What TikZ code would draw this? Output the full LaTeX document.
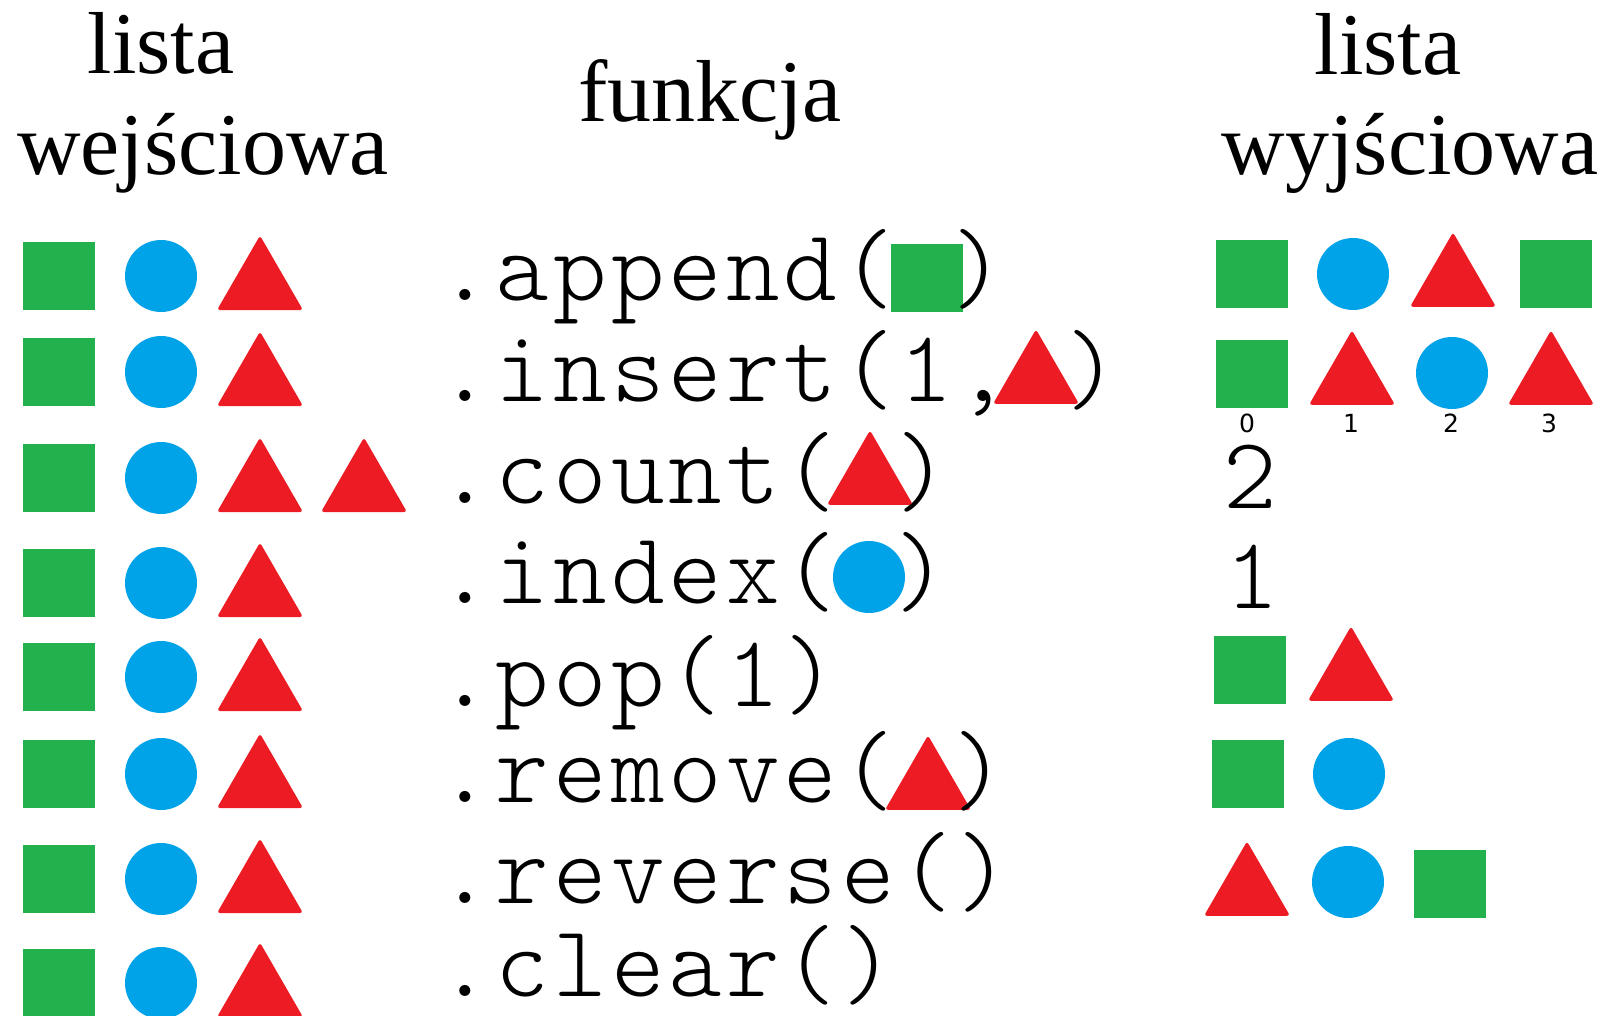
\documentclass[tikz,border=0pt]{standalone}
\usepackage{fontspec}
\usetikzlibrary{shapes.geometric}
\newfontfamily\headfont{Liberation Serif}
\newfontfamily\codefont{lmmonolt10-regular.otf}[LetterSpace=4.0]
\newfontfamily\idxfont{DejaVu Sans}
\definecolor{sqgreen}{HTML}{22B14C}
\definecolor{ballblue}{HTML}{00A2E8}
\definecolor{trired}{HTML}{ED1C24}

\begin{document}
\begin{tikzpicture}[x=1pt,y=-1pt,
  sq/.style={rectangle, fill=sqgreen, inner sep=0pt, outer sep=0pt,
             minimum width=72pt, minimum height=68pt},
  ball/.style={circle, fill=ballblue, inner sep=0pt, outer sep=0pt,
               minimum size=72pt},
  tri/.style={regular polygon, regular polygon sides=3, fill=trired,
              inner sep=0pt, outer sep=0pt, minimum size=99.3pt,
              rounded corners=3pt},
  headtxt/.style={font=\headfont\fontsize{88}{88}\selectfont,
                  inner sep=0pt, anchor=base},
  codetxt/.style={font=\codefont\fontsize{102}{102}\selectfont,
                  inner sep=0pt, anchor=base west},
  closetxt/.style={codetxt, anchor=base},
  idxtxt/.style={font=\idxfont\fontsize{25}{25}\selectfont,
                 inner sep=0pt, anchor=base}]

\useasboundingbox (0,0) rectangle (1609,1016);
\clip (0,0) rectangle (1609,1016);
\fill[white] (0,0) rectangle (1609,1016);

% column headings
\node[headtxt] (inhead1) at (161,74) {lista};
\node[headtxt] (inhead2) at (203,175) {wejściowa};
\node[headtxt] (fnhead) at (710,122) {funkcja};
\node[headtxt] (outhead1) at (1388,75) {lista};
\node[headtxt] (outhead2) at (1410,175) {wyjściowa};

% input lists: square, circle, triangle in every row
\foreach \T [count=\i] in {242,338,444,549,643,740,845,949}{
  \pgfmathsetmacro{\yc}{\T+34}
  \pgfmathsetmacro{\yt}{\T+68-24.8}
  \node[sq] (insq\i) at (59,\yc) {};
  \node[ball] (inball\i) at (161,\yc) {};
  \node[tri] (intri\i) at (260,\yt) {};
}
\node[tri] (intri3b) at (364,487.2) {};

% list methods
\node[codetxt] (fappend) at (438,301) {.append(};
\node[sq] (fappendarg) at (927,278) {};
\node[closetxt] (fappendend) at (978,301) {)};

\node[codetxt] (finsert) at (438,401) {.insert(1,};
\node[tri] (finsertarg) at (1036,379) {};
\node[closetxt] (finsertend) at (1092,401) {)};

\node[codetxt] (fcount) at (438,503) {.count(};
\node[tri] (fcountarg) at (870,480) {};
\node[closetxt] (fcountend) at (922,503) {)};

\node[codetxt] (findex) at (438,603) {.index(};
\node[ball] (findexarg) at (869,577) {};
\node[closetxt] (findexend) at (921,603) {)};

\node[codetxt] (fpop) at (438,706) {.pop(1)};

\node[codetxt] (fremove) at (438,802) {.remove(};
\node[tri] (fremovearg) at (928,785) {};
\node[closetxt] (fremoveend) at (979,802) {)};

\node[codetxt] (freverse) at (438,903) {.reverse()};
\node[codetxt] (fclear) at (438,996) {.clear()};

% results
\node[sq] (r1a) at (1252,274) {};
\node[ball] (r1b) at (1353,274) {};
\node[tri] (r1c) at (1453,282) {};
\node[sq] (r1d) at (1556,274) {};

\node[sq] (r2a) at (1252,374) {};
\node[tri] (r2b) at (1352,380) {};
\node[ball] (r2c) at (1452,373) {};
\node[tri] (r2d) at (1551,380) {};
\node[idxtxt] (i0) at (1247,432) {0};
\node[idxtxt] (i1) at (1351,432) {1};
\node[idxtxt] (i2) at (1451,432) {2};
\node[idxtxt] (i3) at (1549,432) {3};

\node[closetxt] (r3) at (1250,508) {2};
\node[closetxt] (r4) at (1252,608) {1};

\node[sq] (r5a) at (1250,670) {};
\node[tri] (r5b) at (1351,676) {};

\node[sq] (r6a) at (1248,774) {};
\node[ball] (r6b) at (1349,774) {};

\node[tri] (r7a) at (1247,891) {};
\node[ball] (r7b) at (1348,882) {};
\node[sq] (r7c) at (1450,884) {};
\end{tikzpicture}
\end{document}
